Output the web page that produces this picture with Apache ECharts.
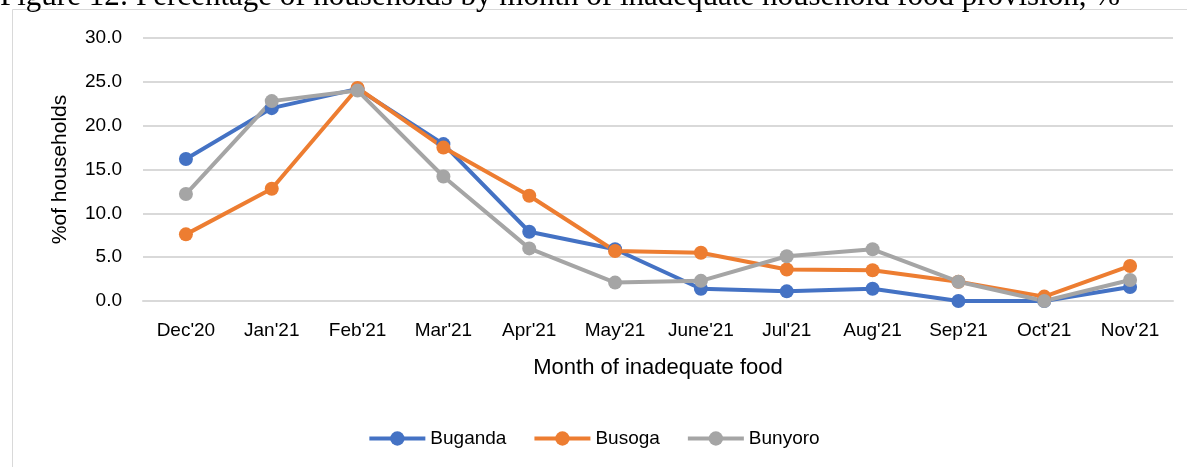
<!DOCTYPE html>
<html>
<head>
<meta charset="utf-8">
<script src="https://cdn.jsdelivr.net/npm/echarts@6/dist/echarts.min.js"></script>
<style>
  html, body { margin: 0; padding: 0; background: #fff; }
  #chart { width: 1187px; height: 467px; }
</style>
</head>
<body>
<div id="chart"></div>
<script>
var months = ["Dec'20", "Jan'21", "Feb'21", "Mar'21", "Apr'21", "May'21", "June'21", "Jul'21", "Aug'21", "Sep'21", "Oct'21", "Nov'21"];
var buganda = [16.2, 22.0, 24.2, 17.9, 7.9, 5.9, 1.4, 1.1, 1.4, 0.0, 0.0, 1.6];
var busoga = [7.6, 12.8, 24.3, 17.5, 12.0, 5.7, 5.5, 3.6, 3.5, 2.2, 0.5, 4.0];
var bunyoro = [12.2, 22.8, 24.0, 14.2, 6.0, 2.1, 2.3, 5.1, 5.9, 2.2, 0.0, 2.4];
var yTicks = [0, 5, 10, 15, 20, 25, 30];

var myChart = echarts.init(document.getElementById('chart'));

function lineSeries(name, data, color) {
    return {
        name: name,
        type: 'line',
        data: data,
        symbol: 'circle',
        symbolSize: 14,
        lineStyle: { width: 4, color: color },
        itemStyle: { color: color },
        emphasis: { disabled: true }
    };
}

var option = {
    animation: false,
    textStyle: { fontFamily: 'Liberation Sans, Arial, sans-serif' },
    graphic: [
        {
            type: 'rect',
            shape: { x: 12.5, y: 9.5, width: 1190, height: 470 },
            style: { fill: 'none', stroke: '#d9d9d9', lineWidth: 1 }
        },
        {
            type: 'text',
            x: 0,
            y: 12,
            style: {
                text: 'Figure 12: Percentage of households by month of inadequate household food provision, %',
                font: '31px "Liberation Serif", serif',
                fill: '#000',
                verticalAlign: 'bottom'
            }
        }
    ],
    color: ['#4472C4', '#ED7D31', '#A5A5A5'],
    legend: {
        bottom: 14,
        left: 'center',
        itemWidth: 56,
        itemHeight: 18,
        itemGap: 26,
        lineStyle: { width: 4 },
        textStyle: { fontSize: 19, color: '#000' },
        data: ['Buganda', 'Busoga', 'Bunyoro']
    },
    grid: { left: 143, right: 14, top: 38, bottom: 166 },
    xAxis: {
        type: 'category',
        data: months,
        boundaryGap: true,
        name: 'Month of inadequate food',
        nameLocation: 'middle',
        nameGap: 56,
        nameTextStyle: { fontSize: 22, color: '#000' },
        axisLine: { show: true, lineStyle: { color: '#d9d9d9', width: 2 } },
        axisTick: { show: false },
        axisLabel: { fontSize: 19, color: '#000', margin: 20 }
    },
    yAxis: {
        type: 'value',
        min: yTicks[0],
        max: yTicks[yTicks.length - 1],
        interval: 5,
        name: '%of households',
        nameLocation: 'middle',
        nameGap: 72,
        nameTextStyle: { fontSize: 21, color: '#000' },
        axisLine: { show: false },
        axisTick: { show: false },
        axisLabel: {
            fontSize: 19, color: '#000', margin: 21,
            formatter: function (v) { return v.toFixed(1); }
        },
        splitLine: { lineStyle: { color: '#d9d9d9', width: 2 } }
    },
    series: [
        lineSeries('Buganda', buganda, '#4472C4'),
        lineSeries('Busoga', busoga, '#ED7D31'),
        lineSeries('Bunyoro', bunyoro, '#A5A5A5')
    ]
};

myChart.setOption(option);
window.addEventListener("resize", function () {
    myChart.resize();
});
</script>
</body>
</html>
